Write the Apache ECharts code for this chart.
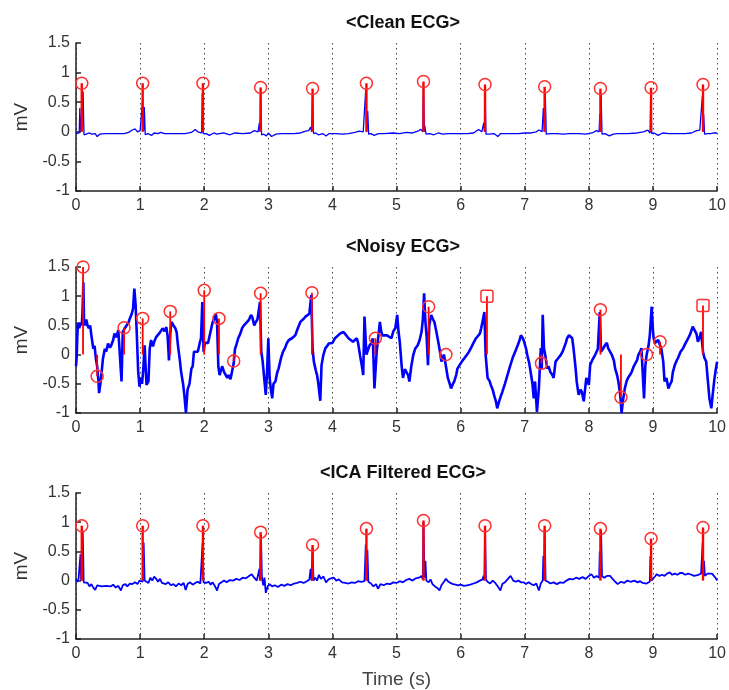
<!DOCTYPE html>
<html><head><meta charset="utf-8">
<script src="https://cdn.jsdelivr.net/npm/echarts@6/dist/echarts.min.js"></script>
<style>html,body{margin:0;padding:0;background:#fff}#c{width:729px;height:690px}</style>
</head><body><div id="c"></div>
<script>
// ---------- DATA ----------
const titles = ['<Clean ECG>', '<Noisy ECG>', '<ICA Filtered ECG>'];
const xTicks = [0,1,2,3,4,5,6,7,8,9,10];
const yTicks = [-1,-0.5,0,0.5,1,1.5];

const cleanEcg = [[0,-0.03],[0.03,-0.03],[0.05,-0.02],[0.06,0.40],[0.075,0.0],[0.105,0.0],[0.11,0.68],[0.125,-0.05],[0.16,-0.04],[0.2,-0.02],[0.25,-0.04],[0.3,-0.03],[0.33,-0.08],[0.37,-0.04],[0.45,-0.03],[0.55,-0.03],[0.65,-0.03],[0.75,-0.03],[0.82,-0.01],[0.88,0.03],[0.92,0.05],[0.96,0.0],[1.0,0.02],[1.03,0.0],[1.04,0.55],[1.055,0.02],[1.065,0.42],[1.08,-0.05],[1.12,-0.03],[1.18,-0.06],[1.22,-0.02],[1.28,-0.03],[1.32,-0.01],[1.38,-0.03],[1.5,-0.03],[1.6,-0.03],[1.7,-0.03],[1.8,-0.01],[1.86,0.04],[1.9,0.0],[1.96,-0.02],[1.97,0.65],[1.985,-0.03],[2.03,-0.03],[2.08,-0.06],[2.15,-0.02],[2.2,-0.04],[2.3,-0.02],[2.4,-0.05],[2.48,-0.02],[2.6,-0.03],[2.72,-0.02],[2.78,0.02],[2.84,0.0],[2.86,0.15],[2.87,0.0],[2.88,0.70],[2.895,-0.05],[2.93,-0.04],[2.97,-0.07],[3.0,-0.02],[3.05,-0.08],[3.12,-0.04],[3.2,-0.03],[3.3,-0.03],[3.4,-0.03],[3.5,-0.02],[3.58,0.01],[3.63,0.02],[3.65,0.0],[3.66,0.08],[3.675,0.0],[3.69,0.65],[3.705,-0.03],[3.74,-0.02],[3.78,-0.05],[3.85,-0.03],[3.9,-0.07],[3.95,-0.03],[4.05,-0.03],[4.15,-0.04],[4.25,-0.03],[4.35,-0.01],[4.42,0.01],[4.48,0.0],[4.51,-0.02],[4.52,0.72],[4.535,0.0],[4.55,0.35],[4.565,-0.04],[4.6,-0.03],[4.65,-0.06],[4.72,-0.03],[4.8,-0.03],[4.95,-0.02],[5.05,-0.03],[5.15,-0.01],[5.25,-0.02],[5.33,0.01],[5.38,0.04],[5.41,0.0],[5.42,0.80],[5.435,0.0],[5.44,0.1],[5.46,-0.04],[5.52,-0.03],[5.58,-0.05],[5.65,-0.02],[5.72,-0.04],[5.8,-0.03],[5.95,-0.03],[6.1,-0.03],[6.2,-0.02],[6.28,0.04],[6.33,0.0],[6.35,0.0],[6.36,0.15],[6.37,0.0],[6.38,0.75],[6.395,-0.04],[6.45,-0.04],[6.52,-0.03],[6.58,-0.08],[6.62,-0.03],[6.75,-0.03],[6.9,-0.03],[7.0,-0.02],[7.1,-0.02],[7.18,0.0],[7.22,0.03],[7.27,0.0],[7.29,0.40],[7.305,0.0],[7.32,0.65],[7.335,-0.04],[7.4,-0.03],[7.5,-0.03],[7.6,-0.04],[7.7,-0.03],[7.85,-0.03],[7.95,-0.04],[8.05,-0.02],[8.12,0.02],[8.16,0.0],[8.17,0.30],[8.18,0.0],[8.19,0.65],[8.205,-0.04],[8.25,-0.03],[8.32,-0.07],[8.38,-0.04],[8.45,-0.03],[8.6,-0.03],[8.75,-0.02],[8.85,0.0],[8.92,0.03],[8.955,-0.02],[8.965,0.65],[8.98,-0.03],[9.02,-0.02],[9.08,-0.06],[9.15,-0.02],[9.25,-0.03],[9.35,-0.03],[9.5,-0.03],[9.6,-0.02],[9.68,0.02],[9.73,0.03],[9.76,0.0],[9.77,0.60],[9.78,0.0],[9.79,0.30],[9.805,-0.04],[9.85,-0.03],[9.9,-0.03],[9.95,-0.02],[10,-0.02]];

const cleanPeaks = [[0.09,0.82],[1.04,0.82],[1.98,0.82],[2.88,0.75],[3.69,0.73],[4.53,0.82],[5.42,0.85],[6.38,0.80],[7.31,0.76],[8.18,0.73],[8.97,0.745],[9.78,0.80]];

const noisyEcg = [[0,-0.2],[0.01,-0.05],[0.02,0.3],[0.03,0.55],[0.05,0.45],[0.07,0.55],[0.09,0.5],[0.1,0.7],[0.115,1.24],[0.125,0.55],[0.14,0.5],[0.16,0.6],[0.18,0.5],[0.2,0.45],[0.22,0.5],[0.24,0.33],[0.27,0.1],[0.29,0.15],[0.31,-0.07],[0.33,-0.2],[0.35,-0.45],[0.36,-0.66],[0.38,-0.5],[0.4,-0.3],[0.42,-0.07],[0.45,0.1],[0.47,0.05],[0.5,0.19],[0.53,0.12],[0.55,0.16],[0.58,0.25],[0.6,0.36],[0.63,0.3],[0.66,0.42],[0.69,0.39],[0.71,-0.46],[0.73,0.39],[0.76,0.45],[0.79,0.48],[0.82,0.55],[0.84,0.62],[0.87,0.7],[0.89,0.79],[0.91,1.13],[0.93,0.85],[0.95,0.3],[0.97,-0.29],[0.99,-0.55],[1.01,-0.4],[1.03,-0.5],[1.05,-0.24],[1.07,0.16],[1.09,-0.3],[1.1,-0.52],[1.13,-0.46],[1.15,0.1],[1.17,0.25],[1.2,0.14],[1.22,0.22],[1.25,0.3],[1.28,0.28],[1.31,0.38],[1.35,0.45],[1.38,0.4],[1.41,0.47],[1.43,0.3],[1.45,-0.1],[1.47,0.35],[1.49,0.56],[1.52,0.5],[1.55,0.45],[1.57,0.38],[1.59,0.16],[1.62,-0.1],[1.64,-0.3],[1.67,-0.5],[1.69,-0.69],[1.715,-1.0],[1.74,-0.6],[1.77,-0.5],[1.8,-0.24],[1.82,-0.2],[1.84,0.05],[1.87,0.08],[1.9,0.05],[1.93,0.2],[1.95,0.28],[1.97,0.9],[1.99,0.05],[2.01,0.2],[2.03,0.22],[2.06,0.2],[2.08,0.3],[2.1,0.4],[2.13,0.55],[2.16,0.62],[2.18,0.7],[2.2,0.55],[2.22,-0.2],[2.24,-0.35],[2.26,-0.27],[2.28,-0.2],[2.31,-0.3],[2.33,-0.28],[2.36,-0.4],[2.38,-0.35],[2.41,-0.42],[2.44,-0.4],[2.46,-0.15],[2.48,0.1],[2.5,0.16],[2.53,0.28],[2.56,0.35],[2.59,0.45],[2.62,0.5],[2.65,0.53],[2.67,0.56],[2.7,0.6],[2.73,0.68],[2.75,0.64],[2.78,0.5],[2.8,0.55],[2.83,0.6],[2.85,0.62],[2.87,0.9],[2.89,0.05],[2.91,-0.1],[2.93,-0.12],[2.96,-0.69],[2.98,-0.3],[3.0,0.28],[3.02,-0.4],[3.04,-0.6],[3.06,-0.75],[3.08,-0.5],[3.11,-0.46],[3.14,-0.3],[3.16,-0.24],[3.2,-0.05],[3.23,0.05],[3.26,0.11],[3.29,0.2],[3.32,0.25],[3.35,0.22],[3.37,0.28],[3.4,0.3],[3.42,0.33],[3.46,0.45],[3.5,0.56],[3.54,0.6],[3.58,0.65],[3.61,0.62],[3.64,0.7],[3.67,1.02],[3.69,0.1],[3.71,-0.12],[3.74,-0.27],[3.76,-0.35],[3.78,-0.5],[3.81,-0.79],[3.83,-0.18],[3.86,0.0],[3.89,0.11],[3.92,0.15],[3.94,0.19],[3.97,0.22],[4.0,0.2],[4.04,0.28],[4.08,0.32],[4.12,0.36],[4.17,0.39],[4.2,0.35],[4.25,0.28],[4.28,0.3],[4.32,0.22],[4.35,0.25],[4.38,0.28],[4.4,0.2],[4.43,-0.01],[4.46,-0.2],[4.48,-0.35],[4.5,0.65],[4.53,0.0],[4.56,0.1],[4.58,0.16],[4.61,0.2],[4.63,0.28],[4.655,-0.58],[4.69,0.05],[4.72,0.35],[4.74,0.56],[4.76,0.4],[4.78,0.33],[4.81,0.3],[4.85,0.33],[4.88,0.3],[4.92,0.28],[4.95,0.4],[4.98,0.45],[5.01,0.68],[5.03,0.4],[5.05,0.22],[5.08,-0.2],[5.1,-0.4],[5.13,-0.25],[5.15,-0.29],[5.18,-0.35],[5.2,-0.46],[5.23,-0.2],[5.26,-0.01],[5.29,0.1],[5.33,0.16],[5.36,0.25],[5.39,0.39],[5.41,0.6],[5.43,1.05],[5.45,0.56],[5.47,0.3],[5.49,-0.18],[5.51,0.5],[5.54,0.68],[5.57,0.6],[5.59,0.56],[5.62,0.4],[5.64,0.28],[5.67,0.1],[5.7,-0.12],[5.72,-0.05],[5.74,0.0],[5.77,-0.2],[5.8,-0.4],[5.83,-0.5],[5.85,-0.58],[5.88,-0.5],[5.9,-0.46],[5.93,-0.35],[5.95,-0.24],[6.0,-0.15],[6.03,-0.1],[6.06,-0.06],[6.1,0.0],[6.13,0.05],[6.16,0.11],[6.2,0.2],[6.24,0.28],[6.27,0.3],[6.3,0.36],[6.32,0.45],[6.34,0.56],[6.37,0.73],[6.39,-0.01],[6.42,-0.4],[6.45,-0.45],[6.47,-0.52],[6.5,-0.6],[6.52,-0.69],[6.55,-0.8],[6.57,-0.92],[6.6,-0.8],[6.63,-0.7],[6.65,-0.64],[6.69,-0.5],[6.73,-0.35],[6.77,-0.2],[6.81,-0.06],[6.85,0.05],[6.89,0.16],[6.92,0.25],[6.94,0.33],[6.97,0.28],[6.99,0.22],[7.02,0.1],[7.04,-0.01],[7.07,-0.15],[7.09,-0.29],[7.12,-0.5],[7.14,-0.75],[7.16,-0.46],[7.19,-0.98],[7.22,-0.58],[7.25,0.11],[7.265,-0.24],[7.28,0.68],[7.3,0.1],[7.32,-0.01],[7.35,-0.24],[7.37,-0.2],[7.4,-0.3],[7.43,-0.35],[7.45,-0.4],[7.48,-0.12],[7.5,-0.12],[7.53,-0.05],[7.56,-0.01],[7.59,0.05],[7.61,0.11],[7.64,0.2],[7.66,0.28],[7.69,0.33],[7.72,0.3],[7.74,0.28],[7.76,0.11],[7.79,-0.2],[7.81,-0.46],[7.84,-0.69],[7.87,-0.6],[7.89,-0.64],[7.92,-0.8],[7.94,-0.6],[7.96,-0.4],[7.98,-0.45],[8.0,-0.52],[8.02,-0.18],[8.05,-0.1],[8.07,-0.06],[8.1,0.0],[8.12,0.05],[8.14,0.1],[8.17,0.73],[8.19,0.05],[8.22,0.1],[8.25,0.16],[8.28,0.2],[8.3,0.11],[8.33,0.05],[8.36,-0.01],[8.39,-0.1],[8.41,-0.24],[8.44,-0.35],[8.46,-0.46],[8.49,-0.7],[8.51,-1.0],[8.53,-0.8],[8.56,-0.58],[8.59,-0.45],[8.61,-0.4],[8.64,-0.35],[8.67,-0.29],[8.7,-0.2],[8.72,-0.18],[8.75,-0.1],[8.77,-0.01],[8.8,0.05],[8.82,0.11],[8.84,0.1],[8.86,-0.75],[8.88,-0.2],[8.9,-0.01],[8.93,0.15],[8.95,0.33],[8.98,0.82],[9.0,0.4],[9.01,0.28],[9.03,0.2],[9.05,0.22],[9.08,0.25],[9.1,0.28],[9.13,0.1],[9.16,-0.12],[9.18,-0.46],[9.21,-0.4],[9.24,-0.58],[9.27,-0.5],[9.29,-0.46],[9.31,-0.3],[9.34,-0.18],[9.37,-0.1],[9.39,-0.06],[9.43,0.05],[9.47,0.11],[9.51,0.2],[9.55,0.28],[9.58,0.35],[9.62,0.48],[9.65,0.51],[9.68,0.35],[9.7,0.22],[9.73,0.3],[9.75,0.39],[9.78,0.05],[9.8,-0.05],[9.83,-0.12],[9.86,-0.5],[9.88,-0.75],[9.91,-0.92],[9.93,-0.7],[9.96,-0.4],[9.98,-0.25],[10.0,-0.12]];

const noisyPeaks = [[0.11,1.5],[0.33,-0.37],[0.75,0.46],[1.04,0.62],[1.47,0.74],[2.0,1.10],[2.23,0.62],[2.46,-0.11],[2.88,1.05],[3.68,1.06],[4.67,0.28],[5.50,0.82],[5.77,0.0],[6.41,1.0],[7.26,-0.15],[8.18,0.77],[8.50,-0.73],[8.90,0.0],[9.11,0.22],[9.78,0.84]];

const filteredEcg = [[0,0.02],[0.02,-0.02],[0.04,0.03],[0.06,0.0],[0.07,0.45],[0.08,0.0],[0.1,0.0],[0.105,0.84],[0.12,-0.03],[0.15,-0.06],[0.18,-0.04],[0.21,-0.1],[0.24,-0.06],[0.27,-0.12],[0.3,-0.16],[0.33,-0.08],[0.36,-0.06],[0.4,-0.1],[0.43,-0.07],[0.47,-0.09],[0.5,-0.06],[0.54,-0.1],[0.58,-0.07],[0.62,-0.12],[0.66,-0.09],[0.7,-0.17],[0.73,-0.08],[0.77,-0.06],[0.8,-0.1],[0.84,-0.05],[0.88,-0.06],[0.92,-0.03],[0.96,-0.06],[0.99,0.0],[1.02,-0.03],[1.04,-0.02],[1.055,0.65],[1.07,0.0],[1.1,0.02],[1.13,-0.04],[1.16,0.05],[1.19,0.0],[1.22,0.07],[1.25,0.03],[1.28,-0.02],[1.31,0.03],[1.34,-0.04],[1.37,-0.02],[1.4,-0.06],[1.44,-0.03],[1.48,-0.08],[1.52,-0.06],[1.56,-0.1],[1.6,-0.05],[1.64,-0.08],[1.68,-0.04],[1.71,-0.16],[1.74,-0.06],[1.78,-0.03],[1.82,-0.07],[1.86,-0.04],[1.9,-0.02],[1.94,-0.05],[1.965,-0.02],[1.975,0.65],[1.99,-0.03],[2.03,-0.04],[2.07,-0.02],[2.1,-0.07],[2.13,-0.03],[2.17,-0.1],[2.2,-0.17],[2.23,-0.06],[2.27,-0.03],[2.31,0.0],[2.35,-0.03],[2.4,0.01],[2.45,0.0],[2.5,0.03],[2.55,0.01],[2.6,0.05],[2.65,0.04],[2.7,0.08],[2.74,0.11],[2.78,0.05],[2.82,0.0],[2.85,0.02],[2.86,0.2],[2.87,0.0],[2.885,0.78],[2.9,0.05],[2.92,-0.08],[2.94,0.05],[2.96,-0.21],[2.99,-0.1],[3.02,-0.06],[3.06,-0.1],[3.1,-0.08],[3.15,-0.11],[3.2,-0.07],[3.25,-0.09],[3.3,-0.06],[3.35,-0.08],[3.4,-0.05],[3.45,-0.04],[3.5,-0.02],[3.55,-0.04],[3.6,-0.01],[3.64,0.02],[3.66,0.2],[3.675,0.0],[3.69,0.56],[3.705,0.0],[3.73,0.05],[3.76,0.0],[3.79,0.1],[3.82,0.03],[3.86,0.07],[3.9,-0.03],[3.94,0.02],[3.98,0.04],[4.02,0.05],[4.06,0.0],[4.1,0.02],[4.15,-0.03],[4.2,-0.04],[4.25,-0.05],[4.3,-0.03],[4.35,-0.04],[4.4,-0.01],[4.45,-0.02],[4.5,-0.01],[4.51,-0.01],[4.52,0.62],[4.535,0.0],[4.545,0.53],[4.56,-0.02],[4.6,-0.05],[4.64,-0.1],[4.68,-0.06],[4.71,-0.14],[4.75,-0.06],[4.8,-0.08],[4.85,-0.05],[4.9,-0.06],[4.95,-0.03],[5.0,-0.04],[5.05,-0.01],[5.1,-0.03],[5.15,0.01],[5.2,0.03],[5.25,0.0],[5.3,0.04],[5.35,0.05],[5.39,0.08],[5.41,0.02],[5.42,1.0],[5.435,0.05],[5.45,0.34],[5.465,0.0],[5.5,-0.03],[5.53,0.02],[5.56,-0.06],[5.6,-0.1],[5.64,-0.13],[5.67,-0.17],[5.7,-0.08],[5.74,-0.02],[5.77,0.03],[5.8,-0.01],[5.84,-0.04],[5.88,-0.06],[5.92,-0.07],[5.96,-0.08],[6.0,-0.07],[6.05,-0.09],[6.1,-0.08],[6.15,-0.07],[6.2,-0.05],[6.25,-0.03],[6.3,0.0],[6.34,0.02],[6.36,0.08],[6.37,0.0],[6.38,0.84],[6.395,0.02],[6.42,-0.02],[6.46,-0.05],[6.5,0.0],[6.54,-0.04],[6.58,-0.1],[6.62,-0.17],[6.65,-0.06],[6.69,-0.03],[6.73,0.02],[6.78,0.08],[6.82,0.0],[6.86,-0.02],[6.9,0.0],[6.94,-0.03],[6.98,-0.03],[7.02,-0.06],[7.06,-0.03],[7.1,-0.06],[7.14,-0.08],[7.18,-0.05],[7.22,-0.17],[7.25,-0.05],[7.28,0.0],[7.29,0.42],[7.3,0.0],[7.31,0.87],[7.325,0.0],[7.36,-0.02],[7.4,-0.05],[7.45,-0.03],[7.5,-0.06],[7.55,-0.03],[7.6,-0.04],[7.65,0.0],[7.7,0.03],[7.75,0.02],[7.8,0.05],[7.85,0.03],[7.9,0.06],[7.95,0.03],[8.0,0.08],[8.04,0.11],[8.08,0.05],[8.12,0.08],[8.16,0.05],[8.17,0.5],[8.18,0.05],[8.19,0.86],[8.205,0.08],[8.24,0.05],[8.28,0.08],[8.33,0.08],[8.37,0.03],[8.41,-0.02],[8.45,-0.06],[8.5,-0.02],[8.55,-0.04],[8.6,0.0],[8.65,-0.02],[8.71,0.0],[8.76,-0.03],[8.8,-0.01],[8.84,-0.04],[8.87,-0.03],[8.9,-0.05],[8.95,-0.02],[8.96,0.42],[8.975,0.0],[9.0,0.03],[9.03,0.07],[9.06,0.11],[9.1,0.08],[9.14,0.1],[9.18,0.08],[9.22,0.12],[9.26,0.14],[9.3,0.1],[9.34,0.12],[9.38,0.1],[9.42,0.13],[9.46,0.13],[9.5,0.1],[9.55,0.12],[9.6,0.1],[9.64,0.08],[9.67,0.11],[9.71,0.1],[9.75,0.12],[9.77,0.1],[9.775,0.65],[9.785,0.1],[9.795,0.34],[9.81,0.08],[9.85,0.12],[9.88,0.11],[9.92,0.12],[9.95,0.08],[9.98,0.04],[10,0.0]];

const filteredPeaks = [[0.09,0.94],[1.04,0.94],[1.98,0.94],[2.88,0.83],[3.69,0.61],[4.53,0.89],[5.42,1.03],[6.38,0.94],[7.31,0.94],[8.18,0.89],[8.97,0.72],[9.78,0.91]];

// ---------- CHART ----------
const FONT = 'Liberation Sans, Arial, sans-serif';
const gridTops = [43, 267, 493];
const gridHeights = [148, 146, 148];
const lineWidths = [1.3, 2.6, 1.8];
const squareTimes = [6.41, 9.78]; // noisy markers drawn as squares

const chart = echarts.init(document.getElementById('c'), null, {renderer: 'canvas'});

function stemRender(isNoisy) {
  return function (params, api) {
    const t = api.value(0), v = api.value(1);
    const p0 = api.coord([t, 0]);
    const p1 = api.coord([t, v]);
    const sq = isNoisy && squareTimes.indexOf(t) >= 0;
    const marker = sq
      ? {type: 'rect', shape: {x: p1[0] - 6, y: p1[1] - 6, width: 12, height: 12, r: 2},
         style: {fill: 'none', stroke: '#ff3030', lineWidth: 1.5}}
      : {type: 'circle', shape: {cx: p1[0], cy: p1[1], r: 6},
         style: {fill: 'none', stroke: '#ff3030', lineWidth: 1.5}};
    return {type: 'group', children: [
      {type: 'line', shape: {x1: p0[0], y1: p0[1], x2: p1[0], y2: p1[1]},
       style: {stroke: '#ff0000', lineWidth: isNoisy ? 1.8 : 2.4}},
      marker
    ]};
  };
}

const lines = [cleanEcg, noisyEcg, filteredEcg];
const peaks = [cleanPeaks, noisyPeaks, filteredPeaks];

const option = {
  animation: false,
  backgroundColor: '#fff',
  title: titles.map((t, i) => ({
    text: t, left: 398, top: gridTops[i] - 34, textAlign: 'center',
    textStyle: {fontFamily: FONT, fontSize: 18, fontWeight: 'bold', color: '#111'}
  })),
  grid: gridTops.map((top, i) => ({left: 76, right: 8, top: top, height: gridHeights[i]})),
  xAxis: gridTops.map((_, i) => ({
    type: 'value', gridIndex: i, min: xTicks[0], max: xTicks[xTicks.length - 1], interval: 1,
    axisLine: {show: true, onZero: false, lineStyle: {color: '#222', width: 1.5}},
    axisTick: {show: true, inside: true, length: 5, lineStyle: {color: '#222', width: 1.5}},
    axisLabel: {fontFamily: FONT, fontSize: 16, color: '#333', margin: 7},
    splitLine: {show: true, lineStyle: {type: [1.5, 3.5], color: '#444', width: 1}},
    name: i === 2 ? 'Time (s)' : '', nameLocation: 'middle', nameGap: 31,
    nameTextStyle: {fontFamily: FONT, fontSize: 19, color: '#444'}
  })),
  yAxis: gridTops.map((_, i) => ({
    type: 'value', gridIndex: i, min: yTicks[0], max: yTicks[yTicks.length - 1], interval: 0.5,
    axisLine: {show: true, lineStyle: {color: '#222', width: 1.5}},
    axisTick: {show: true, inside: true, length: 5, lineStyle: {color: '#222', width: 1.5}},
    axisLabel: {fontFamily: FONT, fontSize: 16, color: '#333', margin: 6},
    splitLine: {show: false},
    name: 'mV', nameLocation: 'middle', nameGap: 44, nameRotate: 90,
    nameTextStyle: {fontFamily: FONT, fontSize: 19, color: '#333'}
  })),
  series: [].concat(
    lines.map((d, i) => ({
      type: 'line', xAxisIndex: i, yAxisIndex: i, data: d, showSymbol: false,
      lineStyle: {color: '#0000ff', width: lineWidths[i]}, z: 2, silent: true
    })),
    peaks.map((d, i) => ({
      type: 'custom', xAxisIndex: i, yAxisIndex: i, data: d,
      encode: {x: 0, y: 1}, renderItem: stemRender(i === 1), z: 3, clip: false, silent: true
    }))
  )
};
chart.setOption(option);
</script>
</body></html>
